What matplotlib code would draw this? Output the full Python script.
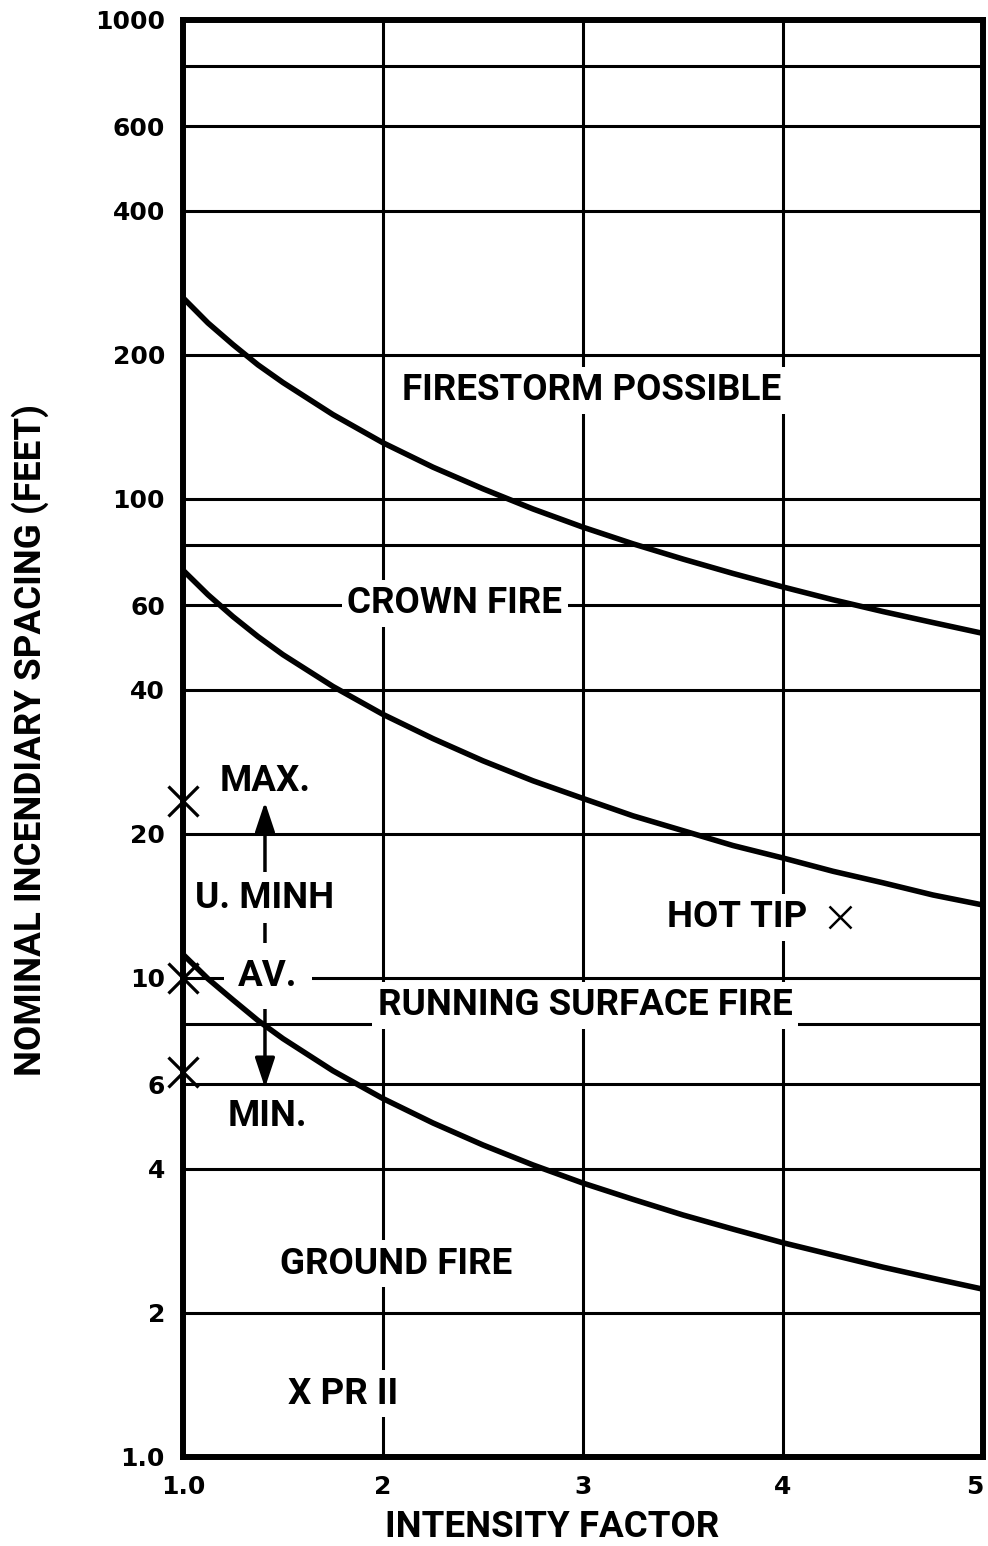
import numpy as np
import matplotlib
matplotlib.use('Agg')
import matplotlib.pyplot as plt

# valores
x_pts = [1.0, 1.125, 1.25, 1.375, 1.5, 1.75, 2.0, 2.25, 2.5, 2.75, 3.0, 3.25, 3.5, 3.75, 4.0, 4.25, 4.5, 4.75, 5.0]
firestorm = [263, 233, 210, 190.5, 175, 150, 131, 116.5, 105, 95.3, 87.3, 80.6, 74.9, 69.9, 65.5, 61.6, 58.2, 55.2, 52.4]
crown = [71, 63.1, 56.8, 51.6, 47.3, 40.6, 35.5, 31.6, 28.4, 25.8, 23.7, 21.8, 20.3, 18.9, 17.8, 16.7, 15.8, 14.9, 14.2]
surface = [11.2, 9.96, 9.0, 8.15, 7.47, 6.4, 5.6, 4.98, 4.48, 4.07, 3.73, 3.45, 3.2, 2.99, 2.8, 2.64, 2.49, 2.36, 2.24]

uminh_x = [1.0, 1.0, 1.0]
uminh_y = [23.4, 10.0, 6.35]
hot_tip = (4.285, 13.4)
arrow_x = 1.41
arrow_top, arrow_bottom = 23.3, 5.9

y_major = [1, 2, 4, 6, 10, 20, 40, 60, 100, 200, 400, 600, 1000]
y_labels = ['1.0', '2', '4', '6', '10', '20', '40', '60', '100', '200', '400', '600', '1000']
y_minor = [8, 80, 800]
x_ticks = [1, 2, 3, 4, 5]
x_labels = ['1.0', '2', '3', '4', '5']

FONT = ['Roboto', 'DejaVu Sans']

fig = plt.figure(figsize=(9.88, 15.46), dpi=100)
ax = fig.add_axes([0.1852, 0.0576, 0.8097, 0.9295])
ax.set_yscale('log')
ax.set_xlim(1, 5)
ax.set_ylim(1, 1000)

ax.set_yticks(y_major)
ax.set_yticklabels(y_labels)
ax.set_yticks(y_minor, minor=True)
ax.set_yticklabels([], minor=True)
ax.set_xticks(x_ticks)
ax.set_xticklabels(x_labels)
ax.tick_params(which='both', length=0, pad=13)
for lab in ax.get_xticklabels() + ax.get_yticklabels():
    lab.set_fontweight('bold')
    lab.set_fontsize(18)
    lab.set_family('DejaVu Sans')
ax.get_xticklabels()[-1].set_horizontalalignment('right')
ax.grid(True, which='both', color='black', linewidth=2.2)
for s in ax.spines.values():
    s.set_linewidth(4.3)

# curvas
for serie in (firestorm, crown, surface):
    ax.plot(x_pts, serie, color='black', linewidth=4, zorder=4, solid_joinstyle='round')

# marcas U. MINH e HOT TIP
ax.plot(uminh_x, uminh_y, 'x', color='black', markersize=21, markeredgewidth=2.3, clip_on=False, zorder=5)
ax.plot([hot_tip[0]], [hot_tip[1]], 'x', color='black', markersize=16, markeredgewidth=1.8, zorder=5)

ax.annotate('', xy=(arrow_x, arrow_top), xytext=(arrow_x, arrow_bottom),
            arrowprops=dict(arrowstyle='<|-|>,head_length=0.9,head_width=0.3', color='black', lw=2.5,
                            mutation_scale=20, shrinkA=0, shrinkB=0), zorder=2.5)

def rotulo(x, y, s, pad=0.15, size=26.5):
    ax.text(x, y, s, ha='center', va='center', fontsize=size, fontweight='bold', family=FONT, zorder=3,
            bbox=dict(boxstyle='square,pad=%s' % pad, facecolor='white', edgecolor='none'))

rotulo(3.045, 168.7, 'FIRESTORM POSSIBLE')
rotulo(2.36, 60.5, 'CROWN FIRE')
rotulo(3.77, 13.4, 'HOT TIP')
rotulo(3.01, 8.76, 'RUNNING SURFACE FIRE')
rotulo(2.065, 2.53, 'GROUND FIRE')
rotulo(1.80, 1.355, 'X PR II')
rotulo(1.41, 25.8, 'MAX.', pad=0.1)
rotulo(1.41, 14.7, 'U. MINH', pad=0.2)
rotulo(1.425, 10.1, 'AV.', pad=0.4)
rotulo(1.42, 5.16, 'MIN.', pad=0.1)

fig.text(30 / 988, 1 - 740 / 1546, 'NOMINAL INCENDIARY SPACING (FEET)', rotation=90, ha='center', va='center',
         fontsize=26.5, fontweight='bold', family=FONT)
fig.text(552 / 988, 1 - 1527 / 1546, 'INTENSITY FACTOR', ha='center', va='center',
         fontsize=26.5, fontweight='bold', family=FONT)

fig.savefig('out.png', dpi=100)
